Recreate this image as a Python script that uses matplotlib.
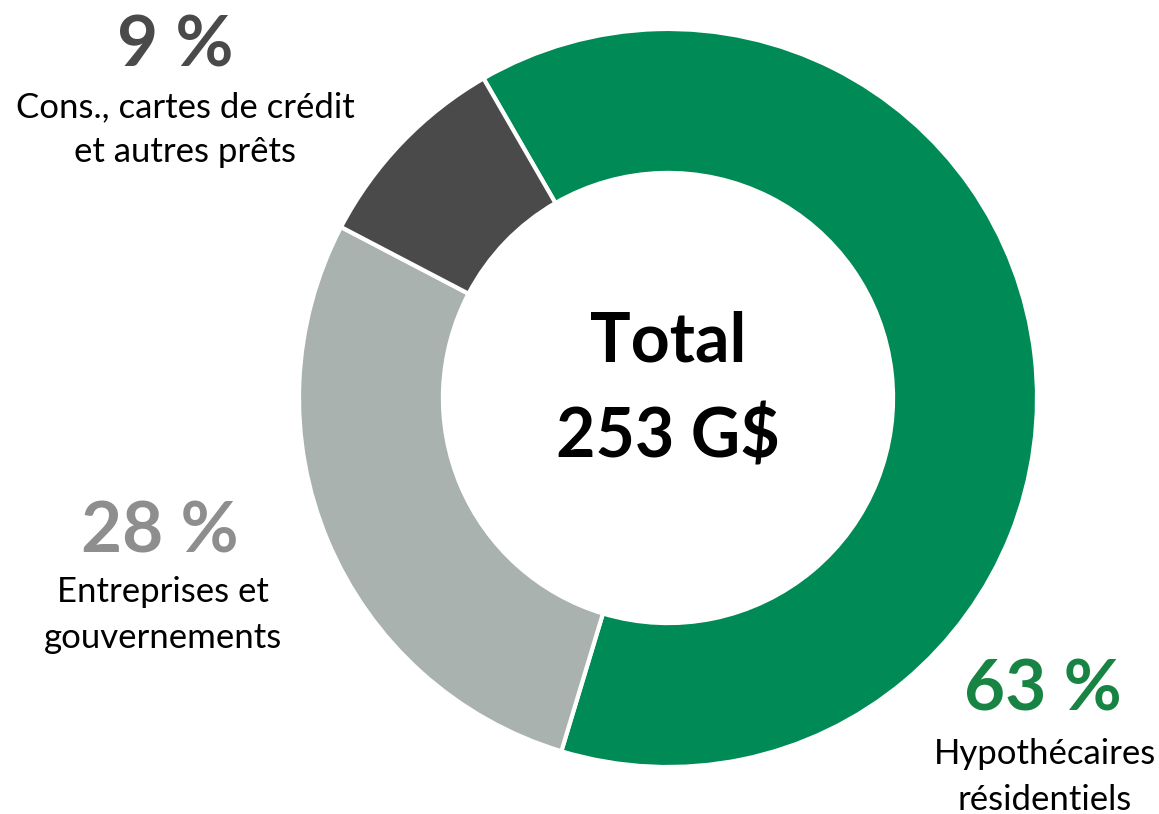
import matplotlib

matplotlib.use("Agg")
import matplotlib.pyplot as plt

# Loan portfolio split (percent of total)
SEGMENTS = ["Hypothécaires résidentiels", "Entreprises et gouvernements", "Cons., cartes de crédit et autres prêts"]
SHARES = [63, 28, 9]
WEDGE_COLORS = ["#008A55", "#A9B2AF", "#4A4A4A"]
LABEL_COLORS = ["#188443", "#8E8E8E", "#4A4A4A"]
LABEL_TEXTS = ["Hypothécaires\nrésidentiels", "Entreprises et\ngouvernements", "Cons., cartes de crédit\net autres prêts"]
TOTAL_TEXT = "Total\n253 G$"

WIDTH_PX, HEIGHT_PX = 1159, 814
FONT = ["Lato", "DejaVu Sans"]


def fx(x):
    return x / WIDTH_PX


def fy(y):
    return 1 - y / HEIGHT_PX


def main() -> None:
    fig = plt.figure(figsize=(WIDTH_PX / 100, HEIGHT_PX / 100), dpi=100)
    ax = fig.add_axes([0, 0, 1, 1])

    radius = 369
    ax.pie(
        SHARES,
        colors=WEDGE_COLORS,
        startangle=120,
        counterclock=False,
        center=(668, HEIGHT_PX - 398),
        radius=radius,
        frame=True,
        wedgeprops={"width": radius * 0.39, "edgecolor": "white", "linewidth": 3},
    )
    ax.set_xlim(0, WIDTH_PX)
    ax.set_ylim(0, HEIGHT_PX)
    ax.set_aspect("equal")
    ax.axis("off")

    # (pct x, pct y, label x, label y) in pixels
    positions = [(1043, 690, 1045, 777), (160, 532, 163, 615), (175, 46, 185, 130)]
    for share, color, text, (px, py, lx, ly) in zip(SHARES, LABEL_COLORS, LABEL_TEXTS, positions):
        fig.text(fx(px), fy(py), f"{share} %", color=color, fontsize=51,
                 fontweight="bold", ha="center", va="center", family=FONT)
        fig.text(fx(lx), fy(ly), text, color="black", fontsize=25,
                 ha="center", va="center", linespacing=1.5, family=FONT)

    fig.text(fx(668), fy(390), TOTAL_TEXT, color="black", fontsize=49,
             fontweight="bold", ha="center", va="center", linespacing=1.6, family=FONT)

    fig.savefig("out.png", dpi=100)
    plt.close(fig)


if __name__ == "__main__":
    main()
